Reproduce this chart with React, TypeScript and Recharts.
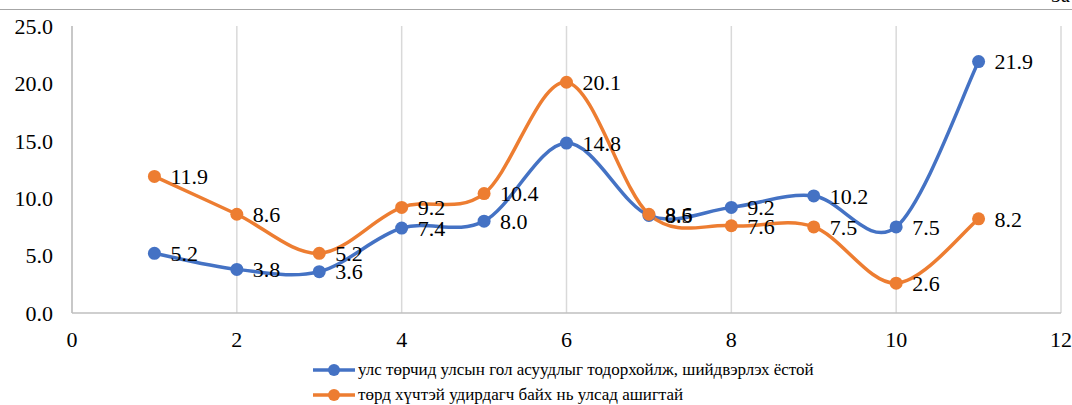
import { CartesianGrid, LabelList, Legend, Line, LineChart, XAxis, YAxis } from "recharts";

// survey points 1..11
const xs = [1, 2, 3, 4, 5, 6, 7, 8, 9, 10, 11];
const blueValues = [5.2, 3.8, 3.6, 7.4, 8.0, 14.8, 8.5, 9.2, 10.2, 7.5, 21.9];
const orangeValues = [11.9, 8.6, 5.2, 9.2, 10.4, 20.1, 8.6, 7.6, 7.5, 2.6, 8.2];

const xTicks = [0, 2, 4, 6, 8, 10, 12];
const yTicks = [0, 5, 10, 15, 20, 25];

const blueName = "улс төрчид улсын гол асуудлыг тодорхойлж, шийдвэрлэх ёстой";
const orangeName = "төрд хүчтэй удирдагч байх нь улсад ашигтай";

const BLUE = "#4472C4";
const ORANGE = "#ED7D31";
const FONT = "Times New Roman, DejaVu Serif, serif";

const data = xs.map((x, i) => ({ x, blue: blueValues[i], orange: orangeValues[i] }));

// Excel-like smoothed line (catmull-rom through every point)
const smoothCurve = (context: any) => {
    let pts: number[][] = [];
    return {
        areaStart() {},
        areaEnd() {},
        lineStart() {
            pts = [];
        },
        point(x: number, y: number) {
            pts.push([+x, +y]);
        },
        lineEnd() {
            if (!pts.length) return;
            context.moveTo(pts[0][0], pts[0][1]);
            for (let i = 0; i < pts.length - 1; i++) {
                const p0 = pts[i - 1] || pts[i];
                const p1 = pts[i];
                const p2 = pts[i + 1];
                const p3 = pts[i + 2] || p2;
                context.bezierCurveTo(
                    p1[0] + (p2[0] - p0[0]) / 6,
                    p1[1] + (p2[1] - p0[1]) / 6,
                    p2[0] - (p3[0] - p1[0]) / 6,
                    p2[1] - (p3[1] - p1[1]) / 6,
                    p2[0],
                    p2[1]
                );
            }
        },
    };
};

const renderLegend = () => (
    <div style={{ fontFamily: FONT, fontSize: 17, color: "#000", lineHeight: "25px" }}>
        {[
            { name: blueName, color: BLUE },
            { name: orangeName, color: ORANGE },
        ].map((item) => (
            <div key={item.name} style={{ display: "flex", alignItems: "center", whiteSpace: "nowrap" }}>
                <svg width={44} height={14} style={{ marginRight: 2 }}>
                    <line x1={1} y1={7} x2={43} y2={7} stroke={item.color} strokeWidth={3.5} />
                    <circle cx={22} cy={7} r={6} fill={item.color} />
                </svg>
                <span>{item.name}</span>
            </div>
        ))}
    </div>
);

const App = () => {
    return (
        <div style={{ position: "absolute", left: 0, top: 0, width: 1072, height: 405, background: "#fff", overflow: "hidden" }}>
            <div style={{ position: "absolute", left: 0, top: 9, width: 1072, borderTop: "1px solid #a6a6a6" }} />
            <div style={{ position: "absolute", right: 2, top: -16, fontFamily: FONT, fontSize: 20, color: "#000" }}>За</div>
            <LineChart width={1072} height={405} data={data} margin={{ top: 26, right: 11, bottom: 62, left: 0 }}>
                <CartesianGrid horizontal={false} vertical={true} stroke="#d9d9d9" strokeWidth={1.5} />
                <XAxis
                    dataKey="x"
                    type="number"
                    domain={[0, 12]}
                    ticks={xTicks}
                    height={30}
                    tickLine={false}
                    tickSize={0}
                    tickMargin={18}
                    axisLine={{ stroke: "#bfbfbf", strokeWidth: 1.5 }}
                    tick={{ fill: "#000", fontSize: 22, fontFamily: FONT }}
                />
                <YAxis
                    type="number"
                    domain={[0, 25]}
                    ticks={yTicks}
                    width={72}
                    tickLine={false}
                    tickSize={0}
                    tickMargin={19}
                    axisLine={{ stroke: "#bfbfbf", strokeWidth: 1.5 }}
                    tickFormatter={(v: number) => v.toFixed(1)}
                    tick={{ fill: "#000", fontSize: 22, fontFamily: FONT }}
                />
                <Legend
                    layout="horizontal"
                    verticalAlign="middle"
                    align="center"
                    content={renderLegend}
                    wrapperStyle={{ top: 357, left: 312, width: 700 }}
                />
                <Line
                    dataKey="blue"
                    name={blueName}
                    type={smoothCurve as any}
                    stroke={BLUE}
                    strokeWidth={3.5}
                    dot={{ r: 6.5, fill: BLUE, stroke: BLUE, strokeWidth: 0 }}
                    activeDot={false}
                    isAnimationActive={false}
                >
                    <LabelList
                        dataKey="blue"
                        position="right"
                        offset={16}
                        formatter={(v: any) => Number(v).toFixed(1)}
                        style={{ fill: "#000", fontSize: 22, fontFamily: FONT }}
                    />
                </Line>
                <Line
                    dataKey="orange"
                    name={orangeName}
                    type={smoothCurve as any}
                    stroke={ORANGE}
                    strokeWidth={3.5}
                    dot={{ r: 6.5, fill: ORANGE, stroke: ORANGE, strokeWidth: 0 }}
                    activeDot={false}
                    isAnimationActive={false}
                >
                    <LabelList
                        dataKey="orange"
                        position="right"
                        offset={16}
                        formatter={(v: any) => Number(v).toFixed(1)}
                        style={{ fill: "#000", fontSize: 22, fontFamily: FONT }}
                    />
                </Line>
            </LineChart>
        </div>
    );
};

export default App;
